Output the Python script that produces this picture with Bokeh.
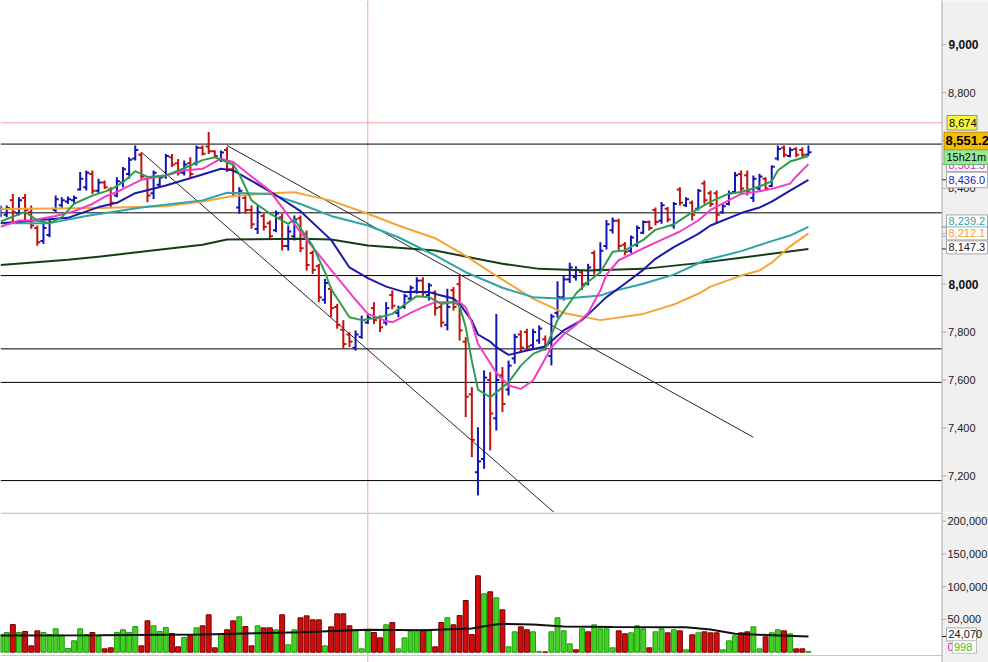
import numpy as np
from bokeh.plotting import figure
from bokeh.models import Range1d, Span, ColumnDataSource
from bokeh.core.properties import value
from bokeh.layouts import column
from bokeh.embed import file_html
from bokeh.resources import INLINE

# ---------------- data ----------------
opens = [8290, 8290, 8350, 8295, 8360, 8300, 8235, 8180, 8205, 8310,
         8330, 8345, 8350, 8395, 8405, 8460, 8390, 8425, 8395, 8370,
         8425, 8460, 8525, 8540, 8440, 8380, 8415, 8450, 8530, 8505,
         8465, 8505, 8505, 8570, 8575, 8555, 8520, 8560, 8480, 8320,
         8360, 8310, 8230, 8285, 8255, 8225, 8280, 8160, 8200, 8275,
         8210, 8130, 8075, 7935, 7980, 7905, 7810, 7790, 7735, 7780,
         7840, 7900, 7860, 7840, 7955, 7880, 7905, 7940, 7970, 8015,
         7955, 7965, 7905, 7830, 7975, 8000, 7760, 7540, 7215, 7270,
         7600, 7440, 7620, 7560, 7690, 7790, 7800, 7745, 7765, 7770,
         7700, 7880, 7945, 8020, 8030, 8050, 8005, 8130, 8060, 8160,
         8225, 8265, 8165, 8140, 8165, 8215, 8260, 8310, 8265, 8315,
         8245, 8395, 8330, 8340, 8315, 8420, 8380, 8380, 8300, 8335,
         8385, 8460, 8455, 8360, 8400, 8440, 8410, 8525, 8570, 8535,
         8565, 8560, 8540]
highs = [8329, 8329, 8377, 8363, 8377, 8329, 8245, 8252, 8273, 8370,
         8363, 8366, 8370, 8468, 8475, 8475, 8440, 8433, 8405, 8447,
         8489, 8530, 8579, 8551, 8447, 8475, 8454, 8544, 8544, 8523,
         8516, 8530, 8579, 8579, 8635, 8558, 8558, 8572, 8503, 8405,
         8370, 8329, 8329, 8294, 8266, 8308, 8294, 8245, 8287, 8287,
         8224, 8141, 8085, 8022, 7988, 7918, 7850, 7800, 7807, 7869,
         7876, 7925, 7870, 7925, 7974, 7910, 7960, 7995, 8029, 8029,
         8005, 7974, 7918, 7981, 7988, 8036, 7779, 7570, 7403, 7640,
         7633, 7876, 7654, 7681, 7793, 7807, 7814, 7814, 7828, 7786,
         7876, 8012, 8035, 8090, 8075, 8057, 8085, 8141, 8175, 8268,
         8278, 8273, 8176, 8203, 8245, 8266, 8266, 8320, 8343, 8322,
         8343, 8405, 8363, 8349, 8398, 8433, 8391, 8391, 8336, 8391,
         8468, 8475, 8475, 8454, 8461, 8447, 8496, 8579, 8579, 8572,
         8572, 8572, 8579]
lows = [8280, 8280, 8259, 8287, 8266, 8231, 8161, 8168, 8196, 8301,
        8315, 8335, 8335, 8391, 8391, 8377, 8377, 8398, 8322, 8363,
        8405, 8440, 8516, 8440, 8342, 8356, 8405, 8440, 8489, 8454,
        8454, 8447, 8496, 8537, 8544, 8530, 8510, 8468, 8363, 8294,
        8294, 8231, 8210, 8224, 8189, 8217, 8141, 8141, 8182, 8134,
        8057, 8043, 7925, 7918, 7862, 7814, 7730, 7737, 7723, 7772,
        7834, 7834, 7800, 7828, 7895, 7862, 7897, 7932, 7960, 7946,
        7932, 7869, 7820, 7807, 7890, 7765, 7445, 7278, 7118, 7229,
        7306, 7389, 7466, 7535, 7668, 7716, 7723, 7730, 7751, 7723,
        7661, 7860, 7932, 8005, 8015, 7976, 7995, 8040, 8045, 8145,
        8212, 8141, 8120, 8130, 8155, 8210, 8224, 8245, 8252, 8259,
        8231, 8329, 8322, 8266, 8308, 8336, 8322, 8252, 8294, 8329,
        8377, 8377, 8370, 8343, 8391, 8391, 8405, 8516, 8530, 8530,
        8530, 8530, 8537]
closes = [8315, 8318, 8300, 8350, 8310, 8245, 8175, 8235, 8260, 8355,
          8350, 8355, 8360, 8440, 8465, 8390, 8425, 8405, 8340, 8430,
          8480, 8520, 8560, 8450, 8370, 8465, 8445, 8535, 8500, 8465,
          8500, 8460, 8570, 8545, 8555, 8535, 8550, 8480, 8380, 8390,
          8310, 8250, 8300, 8240, 8200, 8295, 8160, 8220, 8270, 8150,
          8080, 8060, 7945, 8005, 7900, 7830, 7750, 7760, 7790, 7850,
          7860, 7850, 7820, 7900, 7910, 7900, 7950, 7985, 8015, 7965,
          7995, 7900, 7840, 7905, 7905, 7807, 7530, 7350, 7260, 7610,
          7460, 7600, 7500, 7660, 7780, 7735, 7740, 7800, 7815, 7745,
          7865, 7946, 8020, 8070, 8060, 8000, 8070, 8060, 8140, 8250,
          8265, 8160, 8135, 8195, 8235, 8260, 8235, 8260, 8330, 8270,
          8335, 8340, 8355, 8290, 8390, 8350, 8335, 8290, 8325, 8380,
          8455, 8400, 8390, 8440, 8450, 8400, 8490, 8565, 8540, 8560,
          8540, 8540, 8551.2]

# volume in thousands
volumes_k = [27.0, 30.1, 42.3, 30.1, 31.6, 9.7, 32.6, 30.1, 27.0, 35.7,
             26.0, 5.6, 17.4, 35.7, 27.0, 30.1, 24.0, 5.1, 6.7, 30.1,
             34.2, 30.1, 39.2, 9.7, 47.9, 40.3, 31.6, 37.7, 28.5, 8.2,
             22.4, 26.0, 37.2, 40.3, 57.1, 6.7, 27.0, 34.2, 47.9, 54.0,
             39.2, 9.7, 40.3, 37.2, 37.2, 34.2, 57.1, 11.3, 34.2, 52.5,
             55.5, 49.4, 49.4, 9.7, 38.7, 58.6, 58.6, 40.3, 34.2, 5.1,
             32.6, 30.1, 21.9, 41.8, 45.3, 5.1, 21.9, 32.6, 31.1, 34.2,
             32.6, 8.2, 45.3, 52.5, 41.8, 56.0, 78.9, 27.0, 116.6, 89.1,
             92.2, 83.0, 64.7, 8.2, 31.1, 38.7, 34.2, 31.1, 1.1, 0.3,
             31.1, 52.5, 32.6, 12.8, 3.6, 35.7, 31.1, 41.8, 35.7, 35.7,
             6.7, 32.6, 28.0, 29.6, 40.3, 35.7, 6.7, 31.1, 35.7, 29.6,
             34.2, 32.6, 3.6, 26.5, 29.6, 31.1, 29.6, 29.6, 3.6, 17.4,
             25.0, 29.6, 31.1, 38.7, 5.1, 23.5, 29.6, 34.2, 32.6, 28.0,
             5.1, 5.1, 0.998]
vol_up = [1, 1, 0, 1, 0, 0, 0, 1, 1, 1,
          1, 1, 1, 1, 1, 0, 1, 0, 0, 1,
          1, 1, 1, 0, 0, 1, 1, 1, 0, 0,
          1, 0, 1, 0, 0, 0, 1, 0, 0, 1,
          0, 0, 1, 0, 0, 1, 0, 1, 1, 0,
          0, 0, 0, 1, 0, 0, 0, 0, 1, 1,
          1, 0, 0, 1, 0, 1, 1, 1, 1, 0,
          1, 0, 0, 1, 0, 0, 0, 0, 0, 1,
          0, 1, 0, 1, 1, 0, 0, 1, 1, 0,
          1, 1, 1, 1, 0, 1, 0, 1, 1, 1,
          1, 0, 0, 1, 1, 1, 0, 1, 1, 0,
          1, 0, 1, 0, 1, 0, 0, 0, 1, 1,
          1, 0, 0, 1, 1, 0, 1, 1, 0, 1,
          0, 0, 1]

# moving averages (bar index, value)
ma_green_i = [0, 4, 6, 8, 10, 12, 15, 18, 20, 22, 24, 27, 30, 33, 35, 38, 39, 41, 44, 47,
              48, 51, 53, 54, 57, 59, 62, 64, 66, 68, 70, 72, 74, 75, 76, 77, 78, 80, 83, 85,
              87, 89, 91, 94, 96, 98, 100, 102, 105, 107, 110, 113, 116, 119, 121, 124, 126, 127, 129, 132]
ma_green_v = [8262, 8302, 8266, 8255, 8280, 8336, 8370, 8395, 8426, 8472, 8448, 8454, 8484, 8518, 8530, 8500, 8460, 8350, 8295, 8252,
              8270, 8160, 8050, 7980, 7862, 7850, 7862, 7876, 7915, 7950, 7946, 7918, 7925, 7910, 7820, 7680, 7560, 7528, 7590, 7660,
              7709, 7730, 7850, 7960, 8010, 8050, 8135, 8141, 8185, 8227, 8250, 8300, 8345, 8378, 8385, 8408, 8430, 8475, 8512, 8535]
ma_pink_i = [0, 3, 5, 9, 12, 15, 17, 19, 20, 23, 27, 30, 33, 36, 38, 44, 49, 54, 58, 60,
             63, 64, 67, 69, 71, 75, 76, 77, 78, 81, 83, 85, 87, 89, 90, 92, 94, 96, 98, 99,
             101, 105, 108, 111, 114, 116, 121, 124, 126, 129, 130, 132]
ma_pink_v = [8240, 8266, 8266, 8285, 8305, 8335, 8365, 8385, 8398, 8436, 8454, 8475, 8482, 8524, 8510, 8390, 8217, 8060, 7935, 7876,
             7846, 7841, 7880, 7904, 7925, 7925, 7904, 7840, 7751, 7630, 7577, 7563, 7598, 7690, 7737, 7790, 7830, 7880, 7974, 8040,
             8100, 8150, 8185, 8220, 8266, 8310, 8377, 8388, 8398, 8420, 8450, 8501.5]
ma_blue_i = [0, 5, 11, 16, 19, 22, 27, 33, 36, 38, 44, 49, 54, 57, 60, 63, 66, 70, 72, 74,
             75, 77, 78, 80, 81, 83, 86, 89, 92, 95, 99, 102, 105, 107, 110, 114, 116, 121, 124, 126,
             129, 132]
ma_blue_v = [8255, 8265, 8277, 8322, 8340, 8380, 8412, 8458, 8482, 8475, 8388, 8305, 8185, 8070, 8025, 7990, 7967, 7967, 7953, 7940,
             7918, 7848, 7790, 7760, 7737, 7705, 7723, 7740, 7807, 7850, 7946, 8002, 8060, 8106, 8155, 8210, 8245, 8297, 8320, 8345,
             8391, 8436.0]
ma_teal_i = [0, 8, 14, 23, 33, 37, 44, 49, 54, 60, 65, 71, 76, 82, 87, 92, 98, 100, 105, 110,
             115, 121, 126, 129, 132]
ma_teal_v = [8255, 8255, 8285, 8320, 8350, 8382, 8377, 8335, 8285, 8245, 8196, 8120, 8050, 7985, 7946, 7939, 7953, 7970, 8002, 8040,
             8099, 8138, 8180, 8203, 8239.2]
ma_orange_i = [0, 16, 27, 33, 38, 44, 48, 54, 60, 65, 71, 76, 81, 87, 92, 98, 105, 110, 114, 116,
               121, 124, 126, 129, 132]
ma_orange_v = [8314, 8318, 8325, 8345, 8368, 8380, 8384, 8349, 8294, 8245, 8192, 8118, 8035, 7940, 7880, 7850, 7876, 7915, 7960, 7990,
               8036, 8057, 8090, 8158, 8212.1]
ma_dark_i = [0, 11, 16, 23, 33, 37, 49, 54, 60, 71, 78, 82, 88, 96, 105, 114, 121, 126, 132]
ma_dark_v = [8080, 8102, 8115, 8135, 8165, 8187, 8190, 8187, 8162, 8141, 8105, 8085, 8064, 8057, 8064, 8088, 8110, 8127, 8147.3]
vol_ma_i = [0, 16, 33, 49, 60, 69, 77, 80, 82, 87, 92, 100, 112, 116, 120, 126, 132]
vol_ma_v = [25.5, 26.0, 27.0, 30.6, 34.2, 33.6, 36.2, 41.0, 43.3, 42.3, 39.2, 38.5, 38.2, 34.7, 28.0, 26.0, 24.07]

# levels and drawn lines
h_levels = [8585, 8298, 8036, 7730, 7590, 7180]
alert_level = 8674
cursor_bar = 60
trend_x0 = [37.0, 23.1]
trend_y0 = [8579, 8549]
trend_x1 = [123.0, 91.2]
trend_y1 = [7361, 7030]
timer_text = "15h21m"

price_ticks = [7200, 7400, 7600, 7800, 8000, 8200, 8400, 8600, 8800, 9000]
vol_ticks = [50, 100, 150, 200]

# ---------------- geometry / style ----------------
FONT = value("Liberation Sans")
W, H1, H2 = 988, 512, 150
PX = 6.12                          # px per bar
X_MIN = -0.1 / PX
X_MAX = X_MIN + W / PX
AX_X = X_MIN + 941.5 / PX          # right price axis position
P_PPU = 0.2395                     # px per price unit
V_PPU = 0.655                      # px per 1000 volume
P_TOP, P_BOT = 9184.55, 7046.76
V_TOP, V_BOT = 213.28, -15.73
BLUE_BAR, RED_BAR = "#1414b4", "#c01212"
AX_GRAY, PANEL_BG = "#a8a8a8", "#f0f0f0"


def dx(px):
    return px / PX


n = len(opens)
idx = np.arange(n)
o = np.array(opens, float)
c = np.array(closes, float)
colors = np.where(c >= o, BLUE_BAR, RED_BAR)
src = ColumnDataSource(dict(x=idx, o=o, h=highs, l=lows, c=c, color=colors,
                            xl=idx - 0.5, xr=idx + 0.5))

common = dict(output_backend="svg", toolbar_location=None, x_axis_location=None,
              y_axis_location=None, min_border=0, background_fill_color="white",
              border_fill_color="white", outline_line_color=None)
p1 = figure(width=W, height=H1, x_range=Range1d(X_MIN, X_MAX),
            y_range=Range1d(P_BOT, P_TOP), **common)
p2 = figure(width=W, height=H2, x_range=p1.x_range,
            y_range=Range1d(V_BOT, V_TOP), **common)
for p in (p1, p2):
    p.grid.visible = False

# level lines (stop at the axis)
p1.segment(x0=X_MIN, x1=AX_X, y0=h_levels, y1=h_levels, line_color="#000000", line_width=1)
p1.segment(x0=X_MIN, x1=AX_X, y0=alert_level, y1=alert_level, line_color="#f0a4a4", line_width=1)
for p in (p1, p2):
    p.add_layout(Span(location=cursor_bar, dimension="height", line_color="#f0a4a4",
                      line_width=1, level="underlay"))

# trend lines
p1.segment(x0=trend_x0, y0=trend_y0, x1=trend_x1, y1=trend_y1, line_color="#282828", line_width=1)

# OHLC bars
p1.segment(x0="x", y0="l", x1="x", y1="h", color="color", line_width=2, source=src)
p1.segment(x0="xl", y0="o", x1="x", y1="o", color="color", line_width=2, source=src)
p1.segment(x0="x", y0="c", x1="xr", y1="c", color="color", line_width=2, source=src)

# moving averages
ma_sets = [(ma_dark_i, ma_dark_v, "#183c18"),
           (ma_orange_i, ma_orange_v, "#f5a535"),
           (ma_teal_i, ma_teal_v, "#2ba5a8"),
           (ma_blue_i, ma_blue_v, "#1a1aa8"),
           (ma_pink_i, ma_pink_v, "#f23cc8"),
           (ma_green_i, ma_green_v, "#2f9e4c")]
for xs, ys, col in ma_sets:
    p1.line(xs, ys, line_color=col, line_width=2, line_join="round")

# volume
vcol = ["#40d21e" if u else "#d00c0c" for u in vol_up]
vline = ["#1f9a12" if u else "#7a0000" for u in vol_up]
p2.vbar(x=idx, top=volumes_k, bottom=0, width=0.8, fill_color=vcol, line_color=vline, line_width=1)
p2.line(vol_ma_i, vol_ma_v, line_color="#101010", line_width=2)
# panel separators
p2.segment(x0=X_MIN, x1=AX_X, y0=V_TOP - 0.6 / V_PPU, y1=V_TOP - 0.6 / V_PPU, line_color=AX_GRAY, line_width=1)
p2.segment(x0=X_MIN, x1=X_MAX, y0=V_BOT + 7 / V_PPU, y1=V_BOT + 7 / V_PPU, line_color="#c8c8c8", line_width=1)

# ---------------- right axis panel ----------------
for p, top, bot in ((p1, P_TOP, P_BOT), (p2, V_TOP, V_BOT)):
    p.quad(left=AX_X, right=X_MAX + 1, bottom=bot - 100, top=top + 100,
           fill_color=PANEL_BG, line_color=None)
    p.segment(x0=AX_X, x1=AX_X, y0=bot - 100, y1=top + 100, line_color=AX_GRAY, line_width=1)

p1.segment(x0=AX_X, x1=AX_X + dx(4), y0=price_ticks, y1=price_ticks, line_color=AX_GRAY, line_width=1)
p2.segment(x0=AX_X, x1=AX_X + dx(4), y0=vol_ticks, y1=vol_ticks, line_color=AX_GRAY, line_width=1)

norm = [t for t in price_ticks if t % 1000]
bold = [t for t in price_ticks if not t % 1000]
p1.text(x=AX_X + dx(6), y=norm, text=[f"{t:,}" for t in norm], text_font=FONT,
        text_font_size="11px", text_color="#202020", text_baseline="middle")
p1.text(x=AX_X + dx(6.5), y=bold, text=[f"{t:,}" for t in bold], text_font=FONT,
        text_font_size="12px", text_font_style="bold", text_color="#101010", text_baseline="middle")
p2.text(x=AX_X + dx(5.5), y=vol_ticks, text=[f"{t * 1000:,}" for t in vol_ticks], text_font=FONT,
        text_font_size="11px", text_color="#202020", text_baseline="middle")

# colored ticks of the last values
tick_vals = [ma_pink_v[-1], ma_blue_v[-1], ma_teal_v[-1], ma_orange_v[-1], ma_dark_v[-1]]
tick_cols = ["#f23cc8", "#1a1aa8", "#2ba5a8", "#f5a535", "#183c18"]
p1.segment(x0=AX_X, x1=AX_X + dx(4), y0=tick_vals, y1=tick_vals, line_color=tick_cols, line_width=1)
p2.segment(x0=AX_X, x1=AX_X + dx(4), y0=vol_ma_v[-1], y1=vol_ma_v[-1], line_color="#101010", line_width=1)


def value_box(p, ppu, val, text, shift_px, left_px, width_px, height_px, fill, border,
              color, size="11px", style="normal", text_px=2.0):
    yc = val - shift_px / ppu
    half = height_px / 2 / ppu
    x0 = AX_X + dx(left_px)
    if fill is not None:
        p.quad(left=x0, right=x0 + dx(width_px), bottom=yc - half, top=yc + half,
               fill_color=fill, line_color=border, line_width=1)
    p.text(x=x0 + dx(text_px), y=yc, text=[text], text_font=FONT, text_font_size=size,
           text_font_style=style, text_color=color, text_baseline="middle")


value_box(p1, P_PPU, alert_level, f"{alert_level:,}", 0, 5, 30, 14.5, "#f8f83c", "#909090", "#000000")
value_box(p1, P_PPU, ma_pink_v[-1], f"{ma_pink_v[-1]:,.1f}", 0.5, 4.5, 41, 14, "white", "#a8a8a8", "#e020c0")
value_box(p1, P_PPU, closes[-1], f"{closes[-1]:,.1f}", -11.2, 2, 60, 17.6, "#f6bc00", "#b89000",
          "#000000", size="13px", style="bold", text_px=1.5)
value_box(p1, P_PPU, closes[-1], timer_text, 5.0, 2, 44.5, 14.7, "#98e898", "#70b070", "#000000", text_px=2.5)
value_box(p1, P_PPU, ma_blue_v[-1], f"{ma_blue_v[-1]:,.1f}", 0.2, 4.5, 41, 15.5, "white", "#a8a8a8", "#1a1aa8")
value_box(p1, P_PPU, ma_teal_v[-1], f"{ma_teal_v[-1]:,.1f}", -5.5, 4.5, 41, 13, "white", "#a8a8a8", "#2ba5a8")
value_box(p1, P_PPU, ma_orange_v[-1], f"{ma_orange_v[-1]:,.1f}", 0, 4.5, 41, 13, "white", "#a8a8a8", "#f0a030")
value_box(p1, P_PPU, ma_dark_v[-1], f"{ma_dark_v[-1]:,.1f}", -1.5, 4.5, 41, 13, "white", "#a8a8a8", "#202020")

value_box(p2, V_PPU, vol_ma_v[-1], f"{round(vol_ma_v[-1] * 1000):,}", -2, 4.5, 30, 13, "white", "#a8a8a8", "#101010")
value_box(p2, V_PPU, volumes_k[-1], "0", -4.5, 4.5, 6, 12, None, None, "#e020c0", text_px=1)
value_box(p2, V_PPU, volumes_k[-1], f"{round(volumes_k[-1] * 1000):,}", -4.5, 10.5, 24, 12.5, "white",
          "#c0c0c0", "#30c020", text_px=1.5)

layout = column(p1, p2, spacing=0)
open("out.html", "w").write(file_html(layout, INLINE))
